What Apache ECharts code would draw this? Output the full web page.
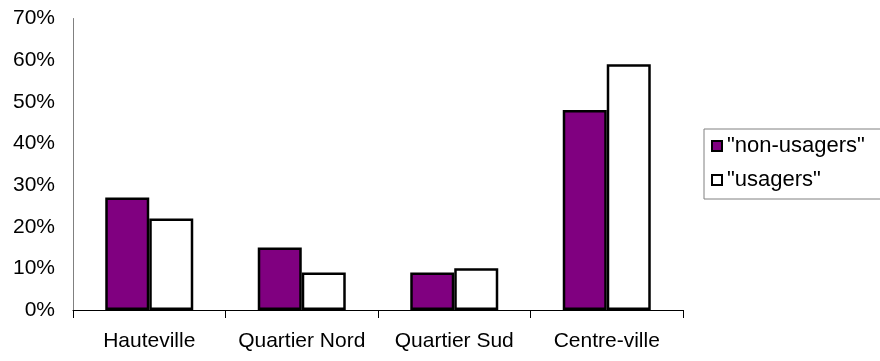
<!DOCTYPE html>
<html>
<head>
<meta charset="utf-8">
<script src="https://cdn.jsdelivr.net/npm/echarts@6/dist/echarts.min.js"></script>
<style>
  html, body { margin: 0; padding: 0; background: #fff; }
  #chart { width: 880px; height: 361px; }
</style>
</head>
<body>
<div id="chart"></div>
<script>
// Quartiers and share of respondents (percent) per group
const districts = ['Hauteville', 'Quartier Nord', 'Quartier Sud', 'Centre-ville'];
const nonUsagers = [27, 15, 9, 48];
const usagers = [22, 9, 10, 59];
const seriesNames = ['"non-usagers"', '"usagers"'];

const FONT = '"Liberation Sans", Arial, sans-serif';
const chart = echarts.init(document.getElementById('chart'), null, { renderer: 'canvas' });

chart.setOption({
  backgroundColor: '#ffffff',
  animation: false,
  grid: { left: 73, right: 197, top: 18.5, bottom: 51, containLabel: false },
  legend: {
    orient: 'vertical',
    left: 704,
    top: 129,
    padding: [5, 40, 7, 7],
    itemGap: 10,
    itemWidth: 10,
    itemHeight: 10,
    borderColor: '#808080',
    borderWidth: 1,
    icon: 'rect',
    itemStyle: { borderColor: '#000', borderWidth: 2 },
    textStyle: { fontFamily: FONT, fontSize: 22, color: '#000', lineHeight: 24 },
    data: seriesNames
  },
  xAxis: {
    type: 'category',
    data: districts,
    axisLine: { lineStyle: { color: '#000', width: 1 } },
    axisTick: { show: true, length: 8, lineStyle: { color: '#000' } },
    axisLabel: { fontFamily: FONT, fontSize: 21, color: '#000', margin: 21, interval: 0 },
    splitLine: { show: false }
  },
  yAxis: {
    type: 'value',
    min: 0,
    max: 70,
    interval: 10,
    axisLine: { show: true, lineStyle: { color: '#808080', width: 1 } },
    axisTick: { show: false },
    splitLine: { show: false },
    axisLabel: { fontFamily: FONT, fontSize: 21, color: '#000', margin: 18, formatter: '{value}%' }
  },
  series: [
    {
      name: seriesNames[0],
      type: 'bar',
      data: nonUsagers,
      barWidth: 44,
      barGap: '0%',
      itemStyle: { color: '#800080', borderColor: '#000', borderWidth: 2.5 }
    },
    {
      name: seriesNames[1],
      type: 'bar',
      data: usagers,
      barWidth: 44,
      barGap: '0%',
      itemStyle: { color: '#ffffff', borderColor: '#000', borderWidth: 2.5 }
    }
  ]
});
</script>
</body>
</html>
